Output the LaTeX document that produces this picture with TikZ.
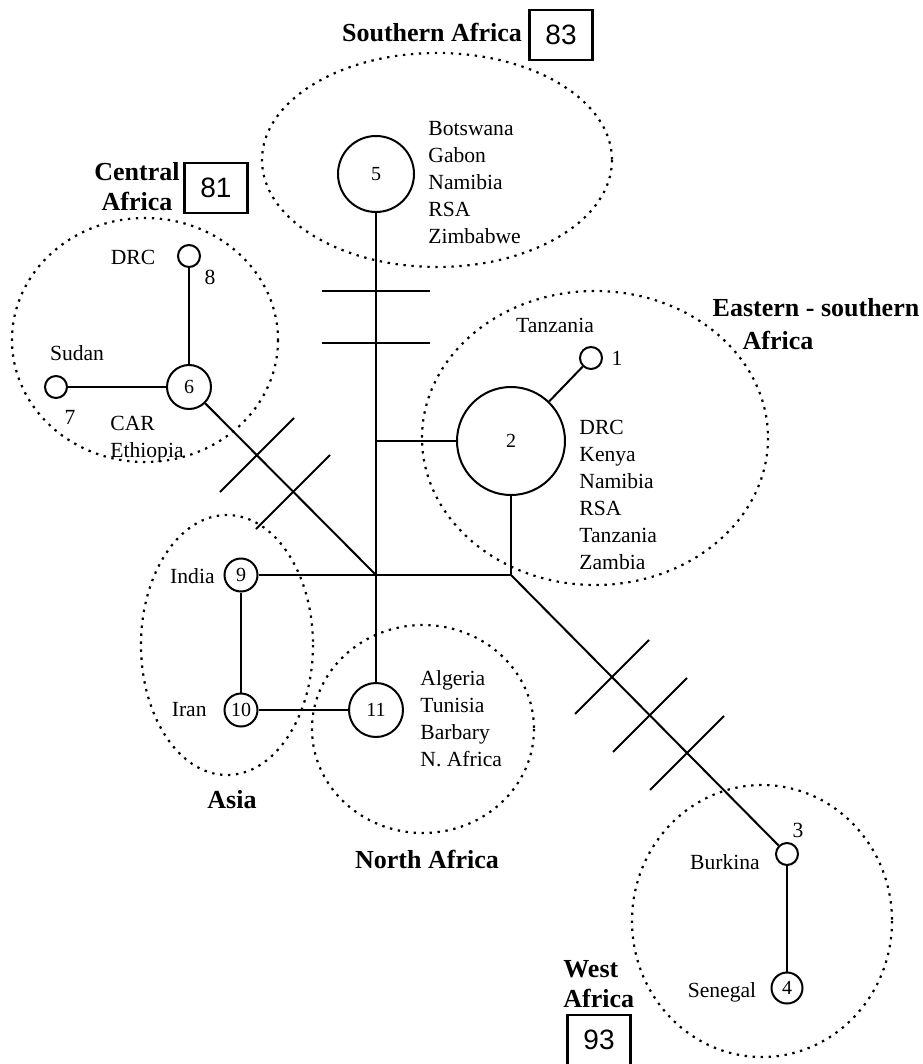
\documentclass[tikz,border=0pt]{standalone}
\usepackage{fontspec}
\setmainfont{Liberation Serif}
\newfontfamily\boxfont{Liberation Sans}
\usepackage{tikz}

\begin{document}
\begin{tikzpicture}[x=0.5pt,y=-0.5pt,
	hap/.style={circle, draw, line width=1pt, inner sep=0pt, font=\fontsize{10}{12}\selectfont},
	link/.style={line width=1pt},
	region/.style={line width=1.1pt, dash pattern=on 1.2pt off 2.8pt},
	tick/.style={line width=1pt},
	place/.style={inner sep=0pt, font=\fontsize{10.8}{13.5}\selectfont},
	list/.style={place, align=left, anchor=north west},
	area/.style={inner sep=0pt, font=\fontsize{13}{15}\selectfont\bfseries},
	count/.style={draw, line width=1.2pt, inner sep=0pt, minimum width=31.5pt, minimum height=25pt, font=\boxfont\fontsize{14}{16}\selectfont}]

	\useasboundingbox (0,0) rectangle (922,1064);

	% regions
	\draw[region] (437,160) ellipse [x radius=175, y radius=107];
	\draw[region] (145,340) ellipse [x radius=133, y radius=122];
	\draw[region] (595,438) ellipse [x radius=173, y radius=147];
	\draw[region] (227,645) ellipse [x radius=86, y radius=130];
	\draw[region] (423,729) ellipse [x radius=111, y radius=104];
	\draw[region] (762,921) ellipse [x radius=130, y radius=136];

	% haplotypes
	\node[hap, minimum size=11pt] (h1) at (591,358) {};
	\node[hap, minimum size=54pt] (h2) at (511,441) {2};
	\node[hap, minimum size=11pt] (h3) at (787,854) {};
	\node[hap, minimum size=15.5pt] (h4) at (787,988) {4};
	\node[hap, minimum size=38pt] (h5) at (376,174) {5};
	\node[hap, minimum size=22pt] (h6) at (189,387) {6};
	\node[hap, minimum size=11pt] (h7) at (56,387) {};
	\node[hap, minimum size=11pt] (h8) at (189,256) {};
	\node[hap, minimum size=16.5pt] (h9) at (241,575) {9};
	\node[hap, minimum size=16.5pt] (h10) at (241,710) {10};
	\node[hap, minimum size=27pt] (h11) at (376,710) {11};

	\coordinate (jc) at (376,575);
	\coordinate (jb) at (511,575);
	\coordinate (j2) at (376,441);

	% network
	\draw[link] (h5) -- (h11);
	\draw[link] (h9) -- (jb);
	\draw[link] (jb) -- (h2);
	\draw[link] (j2) -- (h2);
	\draw[link] (h2) -- (h1);
	\draw[link] (jb) -- (h3);
	\draw[link] (h3) -- (h4);
	\draw[link] (h6) -- (jc);
	\draw[link] (h6) -- (h7);
	\draw[link] (h6) -- (h8);
	\draw[link] (h9) -- (h10);
	\draw[link] (h10) -- (h11);

	% mutation steps
	\draw[tick] (322,291) -- (430,291);
	\draw[tick] (322,343) -- (430,343);
	\draw[tick] (220,492) -- (294,418);
	\draw[tick] (256,529) -- (330,455);
	\draw[tick] (575,714) -- (649,640);
	\draw[tick] (613,752) -- (687,678);
	\draw[tick] (650,790) -- (724,716);

	% countries
	\node[list] (lsouth) at (428,121) {Botswana\\Gabon\\Namibia\\RSA\\Zimbabwe};
	\node[list] (least) at (579,420) {DRC\\Kenya\\Namibia\\RSA\\Tanzania\\Zambia};
	\node[list] (lnorth) at (420,670) {Algeria\\Tunisia\\Barbary\\N. Africa};
	\node[list] (lcentral) at (110,416) {CAR\\Ethiopia};
	\node[place] (ltz) at (555,325) {Tanzania};
	\node[place] (n1) at (617,358) {1};
	\node[place] (ldrc) at (133,257) {DRC};
	\node[place] (n8) at (210,277) {8};
	\node[place] (lsudan) at (77,353) {Sudan};
	\node[place] (n7) at (70,417) {7};
	\node[place, anchor=east] (lindia) at (215,576) {India};
	\node[place, anchor=east] (liran) at (207,710) {Iran};
	\node[place] (n3) at (798,830) {3};
	\node[place] (lburkina) at (725,862) {Burkina};
	\node[place] (lsenegal) at (722,992) {Senegal};

	% region names
	\node[area] (asouth) at (432,33) {Southern Africa};
	\node[count] (c83) at (561,35) {83};
	\node[area, align=center] (acentral) at (137,187) {Central\\Africa};
	\node[count] (c81) at (216,188) {81};
	\node[area] (aeast) at (816,308) {Eastern - southern};
	\node[area] (aeast2) at (778,340) {Africa};
	\node[area] (aasia) at (232,800) {Asia};
	\node[area] (anorth) at (427,859) {North Africa};
	\node[area, align=left, anchor=west] (awest) at (563,984) {West\\Africa};
	\node[count] (c93) at (599,1040) {93};
\end{tikzpicture}
\end{document}
